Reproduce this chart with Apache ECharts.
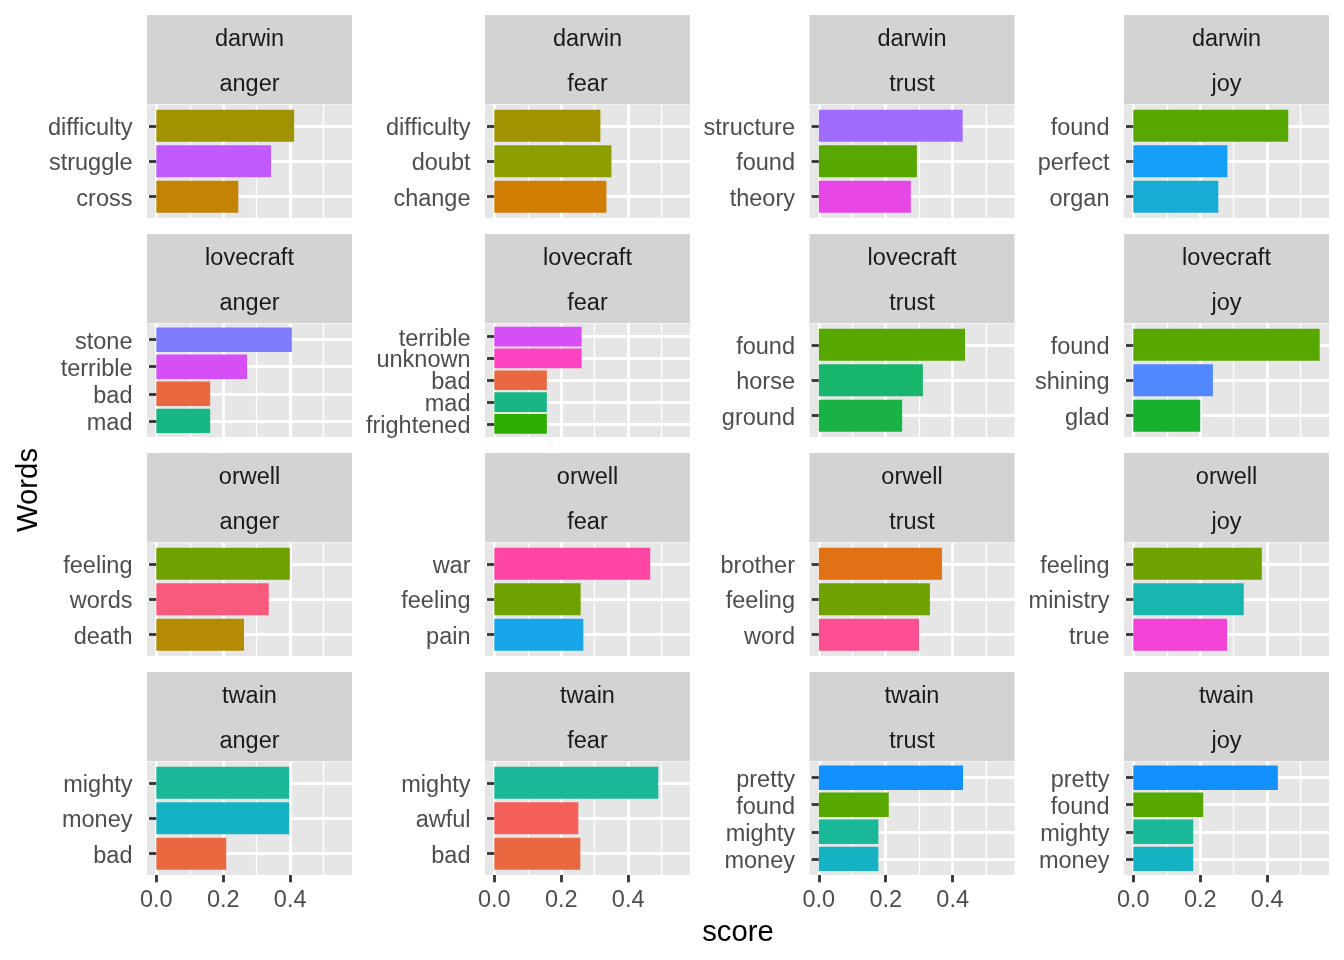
<!DOCTYPE html>
<html><head><meta charset="utf-8">
<script src="https://cdn.jsdelivr.net/npm/echarts@6/dist/echarts.min.js"></script>
<style>html,body{margin:0;padding:0;background:#fff}#c{width:1344px;height:960px}</style>
</head><body><div id="c"></div><script>
// ---- data ----
const authors = ['darwin', 'lovecraft', 'orwell', 'twain'];
const sentiments = ['anger', 'fear', 'trust', 'joy'];
const xTicks = [0, 0.2, 0.4];
const xMinorTicks = [0.1, 0.3, 0.5];
const xTickLabels = ['0.0', '0.2', '0.4'];

// words listed top to bottom
const darwinAngerWords = ['difficulty', 'struggle', 'cross'];
const darwinAngerScores = [0.412, 0.343, 0.245];
const darwinFearWords = ['difficulty', 'doubt', 'change'];
const darwinFearScores = [0.317, 0.350, 0.335];
const darwinTrustWords = ['structure', 'found', 'theory'];
const darwinTrustScores = [0.430, 0.293, 0.275];
const darwinJoyWords = ['found', 'perfect', 'organ'];
const darwinJoyScores = [0.463, 0.281, 0.254];

const lovecraftAngerWords = ['stone', 'terrible', 'bad', 'mad'];
const lovecraftAngerScores = [0.405, 0.271, 0.161, 0.161];
const lovecraftFearWords = ['terrible', 'unknown', 'bad', 'mad', 'frightened'];
const lovecraftFearScores = [0.261, 0.261, 0.157, 0.157, 0.157];
const lovecraftTrustWords = ['found', 'horse', 'ground'];
const lovecraftTrustScores = [0.437, 0.311, 0.249];
const lovecraftJoyWords = ['found', 'shining', 'glad'];
const lovecraftJoyScores = [0.557, 0.238, 0.200];

const orwellAngerWords = ['feeling', 'words', 'death'];
const orwellAngerScores = [0.399, 0.336, 0.262];
const orwellFearWords = ['war', 'feeling', 'pain'];
const orwellFearScores = [0.466, 0.258, 0.266];
const orwellTrustWords = ['brother', 'feeling', 'word'];
const orwellTrustScores = [0.368, 0.332, 0.300];
const orwellJoyWords = ['feeling', 'ministry', 'true'];
const orwellJoyScores = [0.384, 0.330, 0.280];

const twainAngerWords = ['mighty', 'money', 'bad'];
const twainAngerScores = [0.397, 0.397, 0.209];
const twainFearWords = ['mighty', 'awful', 'bad'];
const twainFearScores = [0.490, 0.251, 0.257];
const twainTrustWords = ['pretty', 'found', 'mighty', 'money'];
const twainTrustScores = [0.431, 0.209, 0.178, 0.178];
const twainJoyWords = ['pretty', 'found', 'mighty', 'money'];
const twainJoyScores = [0.432, 0.209, 0.179, 0.179];

// ---- fill colours per word ----
const wordColors = {
  difficulty: '#A09200', struggle: '#C15BFF', cross: '#C38406', doubt: '#8D9E00',
  change: '#D07D04', structure: '#A16BFF', found: '#56A700', theory: '#E847E8',
  perfect: '#139EF7', organ: '#17ACD6', stone: '#7F7BFF', terrible: '#D64EF5',
  bad: '#EA6840', mad: '#18B684', unknown: '#FD43C2', frightened: '#2EAC00',
  horse: '#18B66C', ground: '#19B345', shining: '#5288FF', glad: '#16B02D',
  feeling: '#6FA100', words: '#F9597A', death: '#B38B05', war: '#FF46A5',
  pain: '#17A5E9', brother: '#E07115', word: '#FD4F91', ministry: '#19B6B0',
  true: '#F343D7', mighty: '#19B899', money: '#15B2C3', pretty: '#1290FD',
  awful: '#F5605B'
};

const panels = [
  [darwinAngerWords, darwinAngerScores], [darwinFearWords, darwinFearScores],
  [darwinTrustWords, darwinTrustScores], [darwinJoyWords, darwinJoyScores],
  [lovecraftAngerWords, lovecraftAngerScores], [lovecraftFearWords, lovecraftFearScores],
  [lovecraftTrustWords, lovecraftTrustScores], [lovecraftJoyWords, lovecraftJoyScores],
  [orwellAngerWords, orwellAngerScores], [orwellFearWords, orwellFearScores],
  [orwellTrustWords, orwellTrustScores], [orwellJoyWords, orwellJoyScores],
  [twainAngerWords, twainAngerScores], [twainFearWords, twainFearScores],
  [twainTrustWords, twainTrustScores], [twainJoyWords, twainJoyScores]
];

// ---- layout ----
const FONT = 'Liberation Sans, Arial, Helvetica, sans-serif';
const colLeft = [147, 485, 809.5, 1124];
const rowTop = [15, 234, 453, 672];
const panelW = 205, stripH = 44.5, panelH = 113.5;
let maxScore = 0;
panels.forEach(p => p[1].forEach(v => { if (v > maxScore) maxScore = v; }));
const xMin = -0.05 * maxScore, xMax = 1.05 * maxScore;

const grid = [], xAxis = [], yAxis = [], series = [], graphic = [];

panels.forEach((p, i) => {
  const r = Math.floor(i / 4), c = i % 4;
  const words = p[0], scores = p[1], n = words.length;
  const left = colLeft[c], top = rowTop[r] + 2 * stripH + 0.5;
  const bottomRow = r === 3;

  // strips
  graphic.push({ type: 'rect', silent: true, shape: { x: left, y: rowTop[r], width: panelW, height: 2 * stripH }, style: { fill: '#D3D3D3' } });
  graphic.push({ type: 'text', silent: true, x: left + panelW / 2, y: rowTop[r] + stripH / 2 + 2.5,
    style: { text: authors[r], fill: '#1A1A1A', font: '23.5px ' + FONT, textAlign: 'center', textVerticalAlign: 'middle' } });
  graphic.push({ type: 'text', silent: true, x: left + panelW / 2, y: rowTop[r] + stripH * 1.5 + 2.5,
    style: { text: sentiments[c], fill: '#1A1A1A', font: '23.5px ' + FONT, textAlign: 'center', textVerticalAlign: 'middle' } });

  // outer (background) grid
  const og = grid.length;
  grid.push({ left: left, top: top, width: panelW, height: panelH, show: true, backgroundColor: '#E6E6E6', borderWidth: 0, containLabel: false, outerBoundsMode: 'none' });
  xAxis.push({
    type: 'value', gridIndex: og, min: xMin, max: xMax, position: 'bottom',
    axisLine: { show: false },
    axisTick: { show: bottomRow, customValues: xTicks, length: 7.3, lineStyle: { color: '#333333', width: 2.8 } },
    axisLabel: { show: bottomRow, customValues: xTicks, margin: 13.5, color: '#4D4D4D', fontSize: 23.5, fontFamily: FONT,
      formatter: v => xTickLabels[xTicks.findIndex(t => Math.abs(t - v) < 1e-9)] },
    splitLine: { show: true, lineStyle: { color: '#FFFFFF', width: 2.8 } }
  });
  xAxis.push({
    type: 'value', gridIndex: og, min: xMin, max: xMax, position: 'bottom',
    axisLine: { show: false },
    axisTick: { show: false, customValues: xMinorTicks },
    axisLabel: { show: false, customValues: xMinorTicks },
    splitLine: { show: true, lineStyle: { color: '#FFFFFF', width: 1.4 } }
  });
  yAxis.push({ type: 'value', gridIndex: og, show: false, splitLine: { show: false } });

  // inner grid for the bars (category centres follow ggplot's discrete expansion)
  const unit = panelH / (n + 0.2);
  const ig = grid.length;
  grid.push({ left: left, top: top + 0.6 * unit, width: panelW, height: (n - 1) * unit, show: false, containLabel: false, outerBoundsMode: 'none' });
  const ix = xAxis.length;
  xAxis.push({ type: 'value', gridIndex: ig, min: xMin, max: xMax, show: false, splitLine: { show: false } });
  const iy = yAxis.length;
  yAxis.push({
    type: 'category', gridIndex: ig, data: words, inverse: true, boundaryGap: false,
    axisLine: { show: false },
    axisTick: { show: true, length: 7.3, lineStyle: { color: '#333333', width: 2.8 } },
    axisLabel: { interval: 0, margin: 14.5, color: '#4D4D4D', fontSize: 23.5, fontFamily: FONT,
      formatter: v => '{w|' + v + '}',
      rich: { w: { color: '#4D4D4D', fontSize: 23.5, fontFamily: FONT, padding: [5, 0, 0, 0] } } },
    splitLine: { show: true, lineStyle: { color: '#FFFFFF', width: 2.8 } }
  });
  series.push({
    type: 'bar', xAxisIndex: ix, yAxisIndex: iy, barCategoryGap: '10%',
    data: scores.map((v, k) => ({ value: v, itemStyle: { color: wordColors[words[k]] } })),
    animation: false, silent: true
  });
});

graphic.push({ type: 'text', silent: true, x: 738, y: 932.5,
  style: { text: 'score', fill: '#000000', font: '29.3px ' + FONT, textAlign: 'center', textVerticalAlign: 'middle' } });
graphic.push({ type: 'text', silent: true, x: 29, y: 490, rotation: Math.PI / 2,
  style: { text: 'Words', fill: '#000000', font: '29.3px ' + FONT, textAlign: 'center', textVerticalAlign: 'middle' } });

const chart = echarts.init(document.getElementById('c'), null, { renderer: 'canvas' });
chart.setOption({
  animation: false,
  backgroundColor: '#FFFFFF',
  textStyle: { fontFamily: FONT },
  grid: grid, xAxis: xAxis, yAxis: yAxis, series: series, graphic: graphic
});
</script></body></html>
